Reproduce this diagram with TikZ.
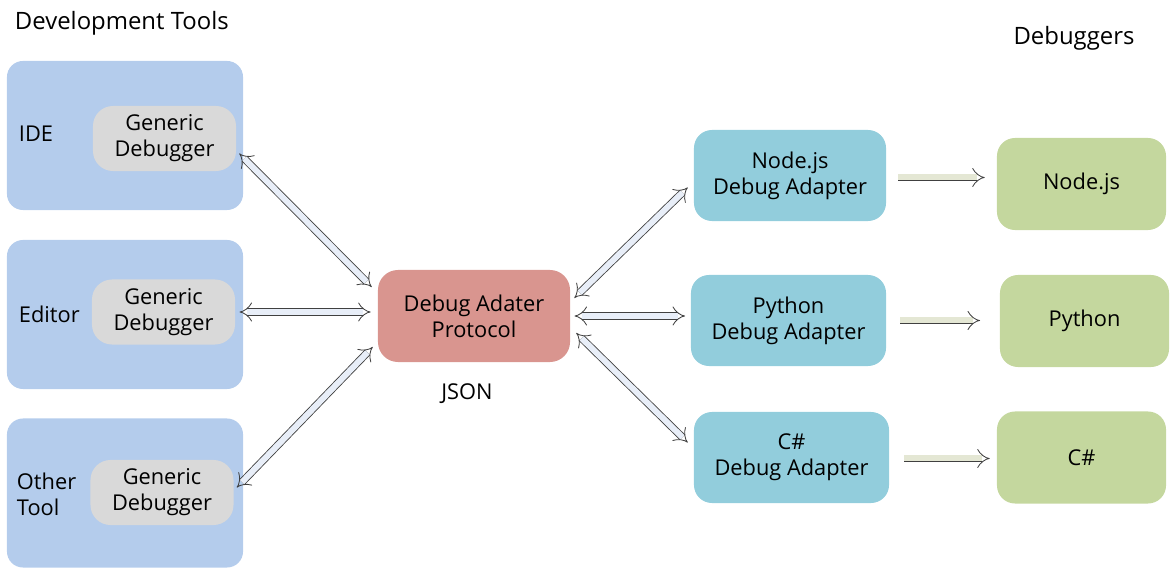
\documentclass[tikz,border=0pt]{standalone}
\usepackage{fontspec}
\setmainfont{Open Sans}
\usetikzlibrary{arrows.meta,positioning}
\definecolor{toolblue}{RGB}{180,204,236}
\definecolor{gengray}{RGB}{217,217,217}
\definecolor{protored}{RGB}{217,149,143}
\definecolor{adaptcyan}{RGB}{146,205,220}
\definecolor{dbggreen}{RGB}{196,215,158}
\definecolor{shaftblue}{RGB}{232,238,248}
\definecolor{shaftbeige}{RGB}{228,231,212}

\begin{document}
\begin{tikzpicture}[x=0.025cm,y=-0.025cm,
		every node/.style = {font=\fontsize{15.5}{18.5}\selectfont, align=center},
		tool/.style = {fill=toolblue, rounded corners=0.4cm, minimum width=5.9cm, minimum height=3.725cm},
		gen/.style = {fill=gengray, rounded corners=0.5cm, minimum width=3.575cm, minimum height=1.625cm},
		adapter/.style = {fill=adaptcyan, rounded corners=0.45cm, minimum width=4.8cm, minimum height=2.275cm},
		dbg/.style = {fill=dbggreen, rounded corners=0.45cm, minimum width=4.225cm, minimum height=2.3cm},
		both/.style = {draw=black!75, line width=0.6pt, double=shaftblue, double distance=0.15cm, {Implies}-{Implies}},
		fwd/.style = {draw=black!75, line width=0.6pt, double=shaftbeige, double distance=0.15cm, -{Implies}}]
		\useasboundingbox (0,0) rectangle (1171,569);
		% development tools
		\node[anchor=west, font=\fontsize{17}{20}\selectfont] (devt) at (10,23) {Development Tools};
		\node[tool] (ide) at (125,135.5) {};
		\node[tool] (edit) at (125,314.5) {};
		\node[tool] (other) at (125,493) {};
		\node[anchor=west] at (14,134) {IDE};
		\node[anchor=west] at (14,314) {Editor};
		\node[anchor=west, align=left] at (12,494) {Other\\Tool};
		\node[gen] (idegen) at (164.5,138.5) {Generic\\Debugger};
		\node[gen] (editgen) at (163.5,312) {Generic\\Debugger};
		\node[gen] (othergen) at (162,492.5) {Generic\\Debugger};
		% protocol
		\node[fill=protored, rounded corners=0.5cm, minimum width=4.8cm, minimum height=2.3cm] (dap) at (474,316) {Debug Adater\\Protocol};
		\node (json) at (467,394) {JSON};
		% adapters
		\node[adapter] (nodeda) at (790,175.5) {Node.js\\Debug Adapter};
		\node[adapter, minimum width=4.875cm] (pyda) at (788.5,320.5) {Python\\Debug Adapter};
		\node[adapter, minimum width=4.875cm] (csda) at (791.5,457.5) {C\#\\Debug Adapter};
		% debuggers
		\node[font=\fontsize{17}{20}\selectfont] (dbgs) at (1074,38) {Debuggers};
		\node[dbg] (nodedbg) at (1081.5,184) {Node.js};
		\node[dbg] (pydbg) at (1084.5,321) {Python};
		\node[dbg] (csdbg) at (1081.5,457.5) {C\#};
		% connectors
		\draw[both] ([shift={(3,15)}]idegen.east) -- ([shift={(-6,-29)}]dap.west);
		\draw[both] ([xshift=3]editgen.east) -- ([xshift=-5]editgen.east -| dap.west);
		\draw[both] ([shift={(3,-5)}]othergen.east) -- ([shift={(-5,31)}]dap.west);
		\draw[both] ([shift={(4,-18)}]dap.east) -- ([shift={(-6,12)}]nodeda.west);
		\draw[both] ([xshift=3]dap.east) -- ([xshift=-4]dap.east -| pyda.west);
		\draw[both] ([shift={(6,17)}]dap.east) -- ([shift={(-6,-15)}]csda.west);
		\draw[fwd] ([shift={(12,2)}]nodeda.east) -- ([shift={(-12,2)}]nodeda.east -| nodedbg.west);
		\draw[fwd] ([xshift=10]pyda.east) -- ([xshift=-14]pyda.east -| pydbg.west);
		\draw[fwd] ([shift={(15,1)}]csda.east) -- ([shift={(-7,1)}]csda.east -| csdbg.west);
\end{tikzpicture}
\end{document}
